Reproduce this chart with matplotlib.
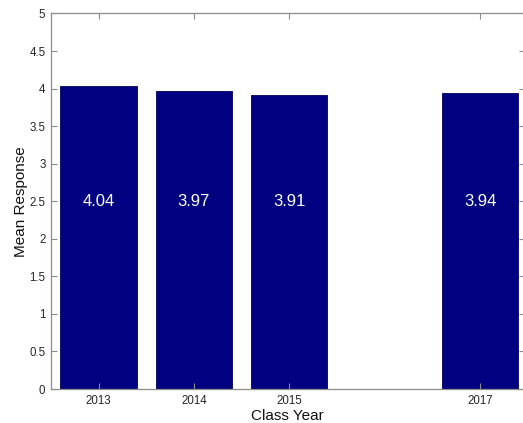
import matplotlib
matplotlib.use("Agg")
import matplotlib.pyplot as plt

plt.rcParams["font.family"] = ["Liberation Sans", "DejaVu Sans"]

# data
years = [2013, 2014, 2015, 2017]
means = [4.04, 3.97, 3.91, 3.94]
labels = ["4.04", "3.97", "3.91", "3.94"]
yticks = [0, 0.5, 1, 1.5, 2, 2.5, 3, 3.5, 4, 4.5, 5]
ytick_labels = ["0", "0.5", "1", "1.5", "2", "2.5", "3", "3.5", "4", "4.5", "5"]

C_BAR = "#000080"
C_AXIS = "#8c8c8c"

fig = plt.figure(figsize=(5.23, 4.23), dpi=100, facecolor="white")
# axes run a little past the right edge (the original is cropped there)
ax = fig.add_axes([51 / 523, 34 / 423, 473.5 / 523, 375.5 / 423])

ax.bar(years, means, width=0.8, color=C_BAR, edgecolor="#00005a", linewidth=0.6)
for x, lab in zip(years, labels):
    ax.text(x, 2.5, lab, ha="center", va="center", color="white", fontsize=12)

ax.set_xlim(2012.502, 2017.465)
ax.set_ylim(0, 5)
ax.set_xticks(years)
ax.set_xticklabels([str(y) for y in years])
ax.set_yticks(yticks)
ax.set_yticklabels(ytick_labels)

for sp in ax.spines.values():
    sp.set_color(C_AXIS)
    sp.set_linewidth(0.9)
ax.tick_params(direction="in", length=4, width=0.8, color=C_AXIS,
               labelsize=8.3, labelcolor="#262626", top=True, right=True, pad=4)

ax.set_xlabel("Class Year", fontsize=11, labelpad=1.5, color="#111111")
ax.set_ylabel("Mean Response", fontsize=11, labelpad=1, color="#111111")

fig.savefig("out.png", dpi=100, facecolor="white")
